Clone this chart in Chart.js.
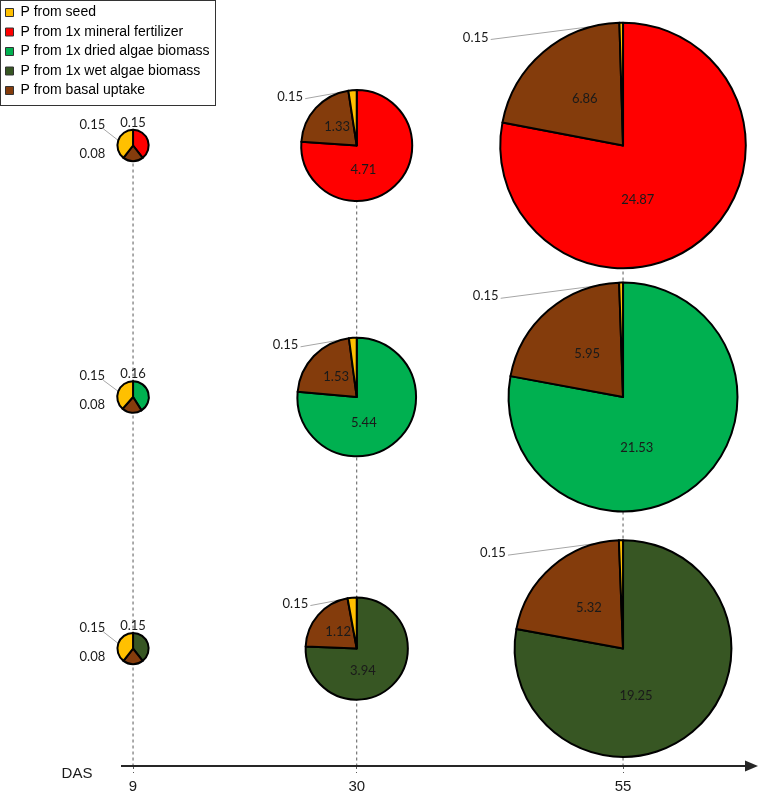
<!DOCTYPE html>
<html>
<head>
<meta charset="utf-8">
<script src="https://cdn.jsdelivr.net/npm/chart.js@4.4.1/dist/chart.umd.min.js"></script>
<style>
  html, body { margin: 0; padding: 0; background: #ffffff; }
  #wrap { width: 763px; height: 795px; position: relative; }
</style>
</head>
<body>
<div id="wrap"><canvas id="c" width="763" height="795"></canvas></div>
<script>
// ---------------- DATA ----------------
const dasDays = [9, 30, 55];

const legendLabels = [
  'P from seed',
  'P from 1x mineral fertilizer',
  'P from 1x dried algae biomass',
  'P from 1x wet algae biomass',
  'P from basal uptake'
];
const legendColors = ['#FFC000', '#FF0000', '#00B050', '#375623', '#843C0C'];

const seedColor = '#FFC000';
const basalColor = '#843C0C';
const treatmentColors = ['#FF0000', '#00B050', '#375623'];

// row levels on the (hidden) vertical scale: top row = mineral fertilizer
const rowLevels = [3, 2, 1];

// P content per DAS (9, 30, 55)
const fertilizerP      = [0.15, 4.71, 24.87];
const fertilizerBasalP = [0.08, 1.33, 6.86];
const fertilizerSeedP  = [0.15, 0.15, 0.15];

const driedAlgaeP      = [0.16, 5.44, 21.53];
const driedAlgaeBasalP = [0.08, 1.53, 5.95];
const driedAlgaeSeedP  = [0.15, 0.15, 0.15];

const wetAlgaeP        = [0.15, 3.94, 19.25];
const wetAlgaeBasalP   = [0.08, 1.12, 5.32];
const wetAlgaeSeedP    = [0.15, 0.15, 0.15];

const pieRows = [
  { level: rowLevels[0], color: treatmentColors[0], treatment: fertilizerP, basal: fertilizerBasalP, seed: fertilizerSeedP },
  { level: rowLevels[1], color: treatmentColors[1], treatment: driedAlgaeP, basal: driedAlgaeBasalP, seed: driedAlgaeSeedP },
  { level: rowLevels[2], color: treatmentColors[2], treatment: wetAlgaeP,   basal: wetAlgaeBasalP,   seed: wetAlgaeSeedP }
];

// ---------------- STYLE ----------------
const Y_MIN = 0.533, Y_MAX = 3.5785;
const X_MIN = -3.49, X_MAX = 68.14;
const LABEL_FONT = '13px Lato';
const LABEL_COLOR = '#1a1a1a';
const LEADER_COLOR = '#A6A6A6';

const ArcEl = Chart.ArcElement || (Chart.elements && Chart.elements.ArcElement);

function radiusFor(total) { return 2.5 + 21.3 * Math.sqrt(total); }

const piePlugin = {
  id: 'pies',
  afterDatasetsDraw(chart) {
    const { ctx, scales: { x, y } } = chart;
    pieRows.forEach(row => {
      dasDays.forEach((d, di) => {
        const values = [row.treatment[di], row.basal[di], row.seed[di]];
        const colors = [row.color, basalColor, seedColor];
        const total = values.reduce((a, b) => a + b, 0);
        const cx = x.getPixelForValue(d);
        const cy = y.getPixelForValue(row.level);
        const r = radiusFor(total);
        const angles = [];
        let a = -Math.PI / 2;
        values.forEach(v => {
          const e = a + v / total * Math.PI * 2;
          angles.push([a, e]);
          a = e;
        });
        const small = total < 1;
        const labels = [];
        const seedMid = (angles[2][0] + angles[2][1]) / 2;
        const seedEdge = [cx + Math.cos(seedMid) * r, cy + Math.sin(seedMid) * r];
        let seedLabel;
        if (small) {
          labels.push([values[0], cx, cy - r - 7]);
          labels.push([values[1], cx - r - 25, cy + 8]);
          seedLabel = [cx - r - 25, cy - r - 5];
        } else {
          labels.push([values[0], cx + 0.12 * r, cy + 0.44 * r]);
          const bm = (angles[1][0] + angles[1][1]) / 2;
          labels.push([values[1], cx + Math.cos(bm) * 0.48 * r, cy + Math.sin(bm) * 0.5 * r]);
          seedLabel = [cx - 1.2 * r, cy - 0.88 * r];
        }
        // leader line (drawn under the pie)
        ctx.save();
        ctx.strokeStyle = LEADER_COLOR;
        ctx.lineWidth = 1;
        ctx.beginPath();
        ctx.moveTo(seedLabel[0] + (small ? 11 : 15), seedLabel[1] + (small ? 4 : 2));
        ctx.lineTo(seedEdge[0], seedEdge[1]);
        ctx.stroke();
        ctx.restore();
        // slices
        values.forEach((v, k) => {
          const arc = new ArcEl({
            x: cx, y: cy,
            startAngle: angles[k][0], endAngle: angles[k][1],
            circumference: angles[k][1] - angles[k][0],
            innerRadius: 0, outerRadius: r
          });
          arc.options = {
            backgroundColor: colors[k], borderColor: '#000000', borderWidth: 2,
            borderAlign: 'center', borderJoinStyle: 'round', borderDash: [], borderDashOffset: 0,
            borderRadius: 0, offset: 0, spacing: 0, circular: true, selfJoin: false
          };
          arc.draw(ctx);
        });
        // texts
        ctx.save();
        ctx.font = LABEL_FONT;
        ctx.fillStyle = LABEL_COLOR;
        ctx.textAlign = 'center';
        ctx.textBaseline = 'middle';
        labels.forEach(l => ctx.fillText(l[0].toFixed(2), l[1], l[2]));
        ctx.fillText(values[2].toFixed(2), seedLabel[0], seedLabel[1]);
        ctx.restore();
      });
    });
  }
};

const axisPlugin = {
  id: 'dasAxis',
  afterDraw(chart) {
    const { ctx, chartArea } = chart;
    const yA = chartArea.bottom;
    ctx.save();
    ctx.strokeStyle = '#262626';
    ctx.fillStyle = '#262626';
    ctx.lineWidth = 2;
    ctx.beginPath();
    ctx.moveTo(121, yA);
    ctx.lineTo(748, yA);
    ctx.stroke();
    ctx.beginPath();
    ctx.moveTo(758, yA);
    ctx.lineTo(745, yA - 5.5);
    ctx.lineTo(745, yA + 5.5);
    ctx.closePath();
    ctx.fill();
    ctx.font = '15px "Liberation Sans"';
    ctx.fillStyle = '#1a1a1a';
    ctx.textAlign = 'center';
    ctx.textBaseline = 'middle';
    ctx.fillText('DAS', 77, yA + 8);
    ctx.restore();
  }
};

const legendBoxPlugin = {
  id: 'legendBox',
  afterDraw(chart) {
    const lg = chart.legend;
    if (!lg || !lg.legendHitBoxes || !lg.legendHitBoxes.length) return;
    const hb = lg.legendHitBoxes;
    let right = 0;
    hb.forEach(h => { right = Math.max(right, h.left + h.width); });
    const last = hb[hb.length - 1];
    const bottom = last.top + last.height + 7;
    const ctx = chart.ctx;
    ctx.save();
    ctx.strokeStyle = '#333333';
    ctx.lineWidth = 1;
    ctx.strokeRect(0.5, 0.5, Math.round(right + 5), Math.round(bottom));
    ctx.restore();
  }
};

new Chart(document.getElementById('c'), {
  type: 'scatter',
  data: {
    datasets: dasDays.map(d => ({
      label: 'DAS ' + d,
      data: [{ x: d, y: rowLevels[0] }, { x: d, y: Y_MIN }],
      showLine: true,
      borderColor: '#595959',
      borderWidth: 1,
      borderDash: [3, 3],
      pointRadius: 0,
      pointHoverRadius: 0
    }))
  },
  options: {
    responsive: false,
    animation: false,
    events: [],
    layout: { padding: { left: 0, right: 0, top: 0, bottom: -6 } },
    scales: {
      x: {
        type: 'linear', min: X_MIN, max: X_MAX, position: 'bottom',
        border: { display: false },
        grid: { drawOnChartArea: false, drawTicks: true, tickLength: 7, tickColor: '#595959', tickWidth: 1, tickBorderDash: [3, 3] },
        afterBuildTicks: s => { s.ticks = dasDays.map(v => ({ value: v })); },
        ticks: { font: { family: 'Liberation Sans', size: 15 }, color: '#1a1a1a', padding: 5, maxRotation: 0, autoSkip: false }
      },
      y: { type: 'linear', min: Y_MIN, max: Y_MAX, display: false }
    },
    plugins: {
      legend: {
        position: 'chartArea',
        align: 'start',
        onClick: null,
        labels: {
          boxWidth: 8, boxHeight: 8, padding: 5.5,
          color: '#1a1a1a',
          font: { family: 'Liberation Sans', size: 14 },
          generateLabels: () => legendLabels.map((t, i) => ({
            text: t, fillStyle: legendColors[i], strokeStyle: '#333333', lineWidth: 1, hidden: false, datasetIndex: 0
          }))
        }
      },
      tooltip: { enabled: false }
    }
  },
  plugins: [piePlugin, axisPlugin, legendBoxPlugin]
});
</script>
</body>
</html>
